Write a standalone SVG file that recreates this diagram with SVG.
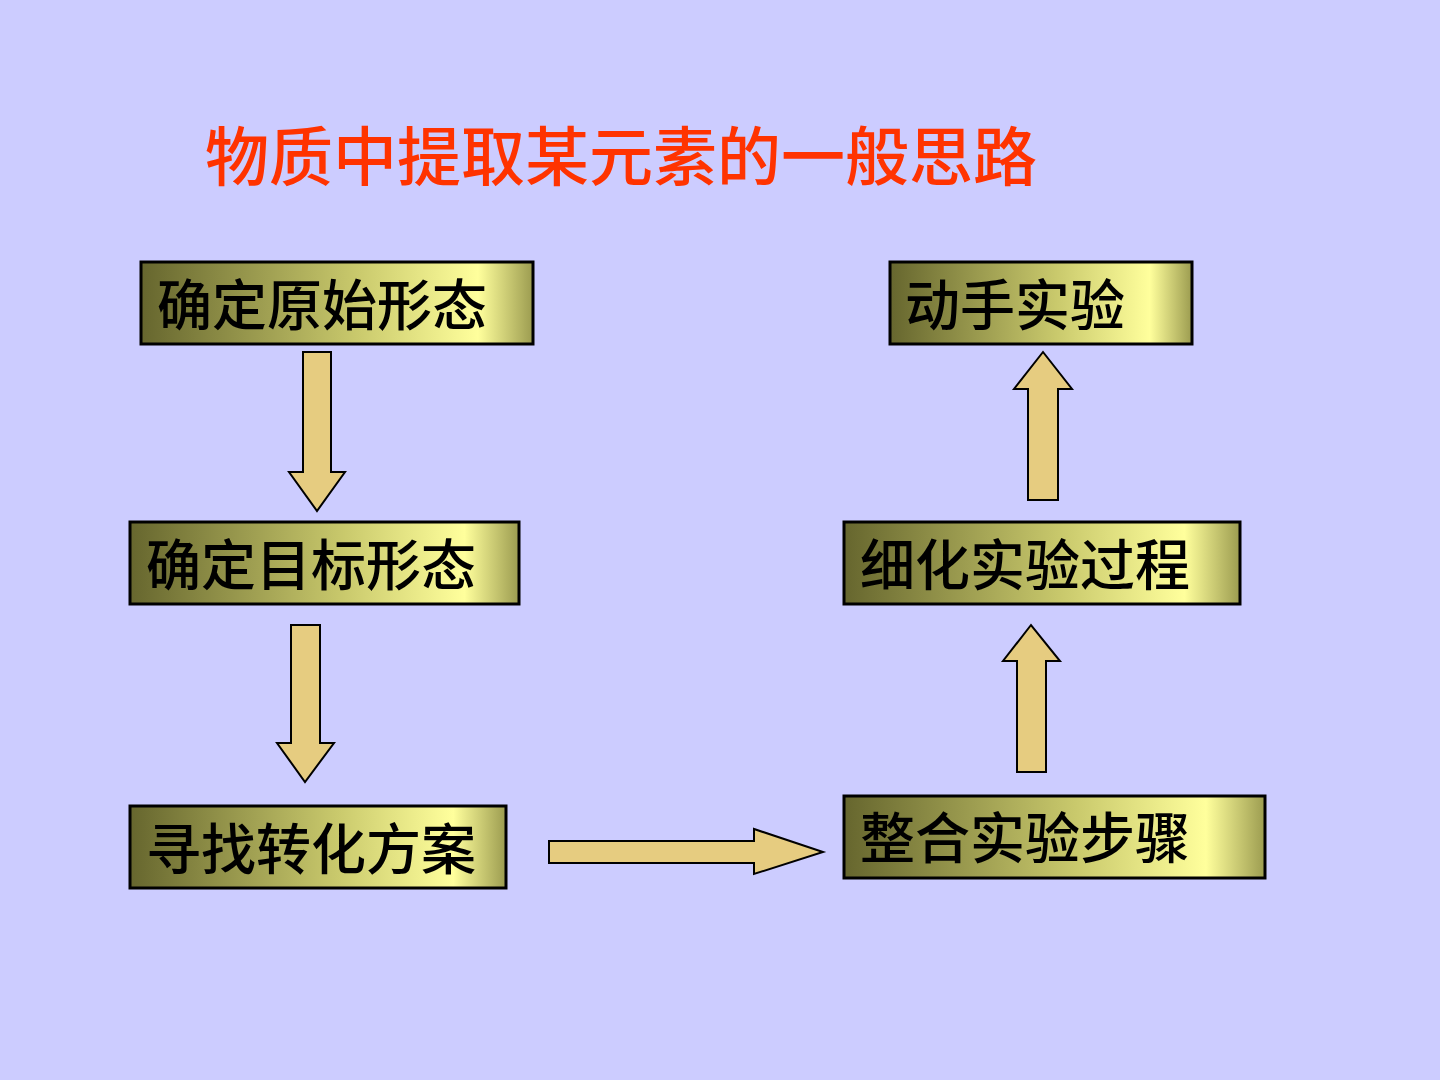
<svg xmlns="http://www.w3.org/2000/svg" width="1440" height="1080" viewBox="0 0 1440 1080">
<defs>
<linearGradient id="g" x1="0" y1="0" x2="1" y2="0">
<stop offset="0" stop-color="#66662e"/>
<stop offset="0.55" stop-color="#c9c96c"/>
<stop offset="0.86" stop-color="#ffff9c"/>
<stop offset="1" stop-color="#9c9c50"/>
</linearGradient>
<style>
.box{fill:url(#g);stroke:#000;stroke-width:3}
.t{font-family:"Noto Sans CJK SC","Noto Sans",sans-serif;font-size:55px;font-weight:500;fill:#000}
.ar{fill:#e6cc80;stroke:#000;stroke-width:2;stroke-linejoin:miter}
.title{font-family:"Noto Sans CJK SC",sans-serif;font-size:64px;font-weight:500;fill:#ff3300}
</style>
</defs>
<rect width="1440" height="1080" fill="#ccccff"/>
<text class="title" x="205" y="180">物质中提取某元素的一般思路</text>
<g id="n1"><rect class="box" x="141" y="262" width="392" height="82"/><text class="t" x="157" y="325">确定原始形态</text></g>
<g id="n2"><rect class="box" x="130" y="522" width="389" height="82"/><text class="t" x="146" y="585">确定目标形态</text></g>
<g id="n3"><rect class="box" x="130" y="806" width="376" height="82"/><text class="t" x="146" y="869">寻找转化方案</text></g>
<g id="n4"><rect class="box" x="844" y="796" width="421" height="82"/><text class="t" x="860" y="858">整合实验步骤</text></g>
<g id="n5"><rect class="box" x="844" y="522" width="396" height="82"/><text class="t" x="860" y="585">细化实验过程</text></g>
<g id="n6"><rect class="box" x="890" y="262" width="302" height="82"/><text class="t" x="905" y="325">动手实验</text></g>
<g id="connectors">
<polygon class="ar" points="303,352 331,352 331,472 345,472 317,511 289,472 303,472"/>
<polygon class="ar" points="291,625 320,625 320,743 334,743 305,782 277,743 291,743"/>
<polygon class="ar" points="549,841 754,841 754,829 823,852 754,874 754,863 549,863"/>
<polygon class="ar" points="1017,772 1046,772 1046,661 1060,661 1031,625 1003,661 1017,661"/>
<polygon class="ar" points="1028,500 1058,500 1058,389 1072,389 1043,352 1014,389 1028,389"/>
</g>
</svg>
